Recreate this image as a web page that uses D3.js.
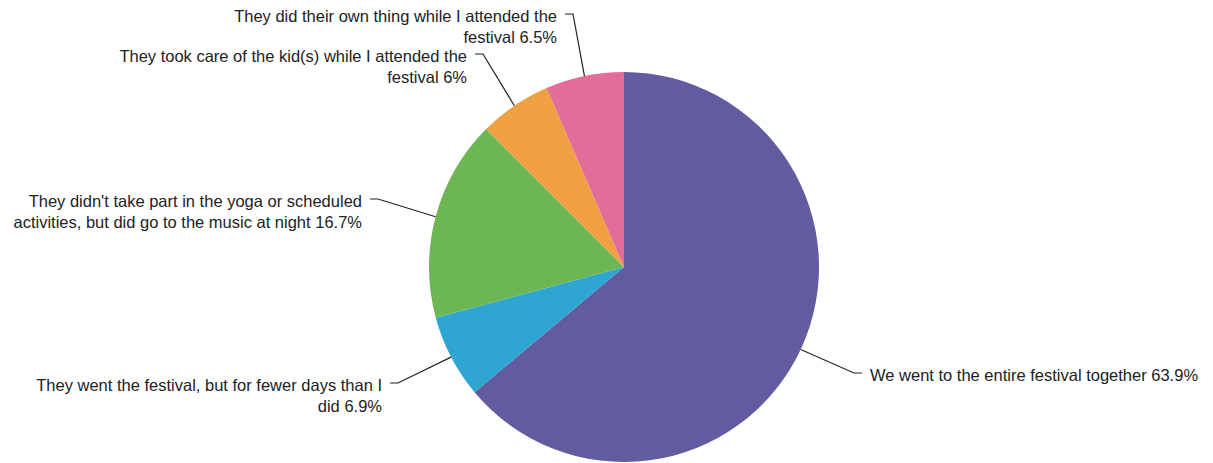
<!DOCTYPE html>
<html>
<head>
<meta charset="utf-8">
<script src="https://cdn.jsdelivr.net/npm/d3@7/dist/d3.min.js"></script>
<style>
  html, body { margin: 0; padding: 0; background: #ffffff; }
  svg { display: block; }
  text { font-family: "Liberation Sans", Arial, sans-serif; fill: #222; }
</style>
</head>
<body>
<svg id="chart" width="1213" height="463"></svg>
<script>
// Festival attendance of companions — share of responses, clockwise from 12 o'clock
const categories = [
  "We went to the entire festival together",
  "They went the festival, but for fewer days than I did",
  "They didn't take part in the yoga or scheduled activities, but did go to the music at night",
  "They took care of the kid(s) while I attended the festival",
  "They did their own thing while I attended the festival"
];
const values = [63.9, 6.9, 16.7, 6, 6.5];

// Label text split into display lines (percentage is appended to the last line)
const labelLines = [
  ["We went to the entire festival together"],
  ["They went the festival, but for fewer days than I", "did"],
  ["They didn't take part in the yoga or scheduled", "activities, but did go to the music at night"],
  ["They took care of the kid(s) while I attended the", "festival"],
  ["They did their own thing while I attended the", "festival"]
];

const colors = ["#615b9f", "#2fa6d2", "#6cb654", "#eea042", "#e26d99"];

// Layout: where each callout's elbow sits and which side its text goes
const callouts = [
  { x: 862, y: 373, side: "right" },
  { x: 390, y: 383, side: "left" },
  { x: 370, y: 199, side: "left" },
  { x: 475, y: 54,  side: "left" },
  { x: 565, y: 14,  side: "left" }
];

const cx = 624, cy = 267, radius = 195;
const elbow = 8, gap = 8, lineHeight = 21, fontSize = 16.5;

const svg = d3.select("#chart");
const g = svg.append("g").attr("transform", `translate(${cx},${cy})`);

const data = values.map((v, i) => ({ name: categories[i], value: v, i }));
const pie = d3.pie().value(d => d.value).sort(null).startAngle(0).endAngle(2 * Math.PI);
const arcs = pie(data);

const arc = d3.arc().innerRadius(0).outerRadius(radius);
const edge = d3.arc().innerRadius(radius).outerRadius(radius);

g.selectAll("path.slice")
  .data(arcs)
  .join("path")
  .attr("class", "slice")
  .attr("d", arc)
  .attr("fill", d => colors[d.data.i]);

// Leader lines: from slice mid-point on the rim to a short horizontal elbow
svg.selectAll("polyline.leader")
  .data(arcs)
  .join("polyline")
  .attr("class", "leader")
  .attr("fill", "none")
  .attr("stroke", "#222")
  .attr("stroke-width", 1.2)
  .attr("points", d => {
    const c = callouts[d.data.i];
    const mid = (d.startAngle + d.endAngle) / 2;
    const px = cx + radius * Math.sin(mid);
    const py = cy - radius * Math.cos(mid);
    const bx = c.side === "right" ? c.x - elbow : c.x + elbow;
    return [[px, py], [bx, c.y], [c.x, c.y]].map(p => p.join(",")).join(" ");
  });

// Callout text
arcs.forEach(d => {
  const i = d.data.i;
  const c = callouts[i];
  const lines = labelLines[i].slice();
  lines[lines.length - 1] = lines[lines.length - 1] + " " + values[i] + "%";
  const t = svg.append("text")
    .attr("font-size", fontSize)
    .attr("text-anchor", c.side === "right" ? "start" : "end");
  const tx = c.side === "right" ? c.x + gap : c.x - gap;
  lines.forEach((ln, k) => {
    t.append("tspan")
      .attr("x", tx)
      .attr("y", c.y + 8 + k * lineHeight)
      .text(ln);
  });
});
</script>
</body>
</html>
